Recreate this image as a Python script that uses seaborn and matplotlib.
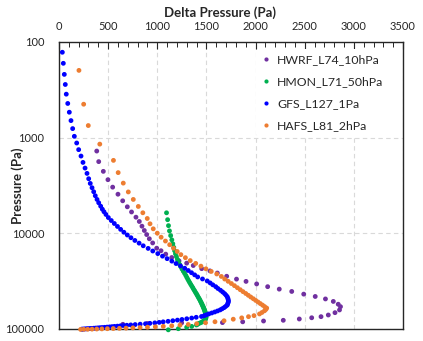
import matplotlib
matplotlib.use("Agg")
import matplotlib.pyplot as plt
import pandas as pd
import seaborn as sns
from matplotlib.lines import Line2D
from matplotlib.ticker import FixedLocator, FuncFormatter, LogLocator, NullFormatter, MultipleLocator

series_names = ["HWRF_L74_10hPa", "HMON_L71_50hPa", "GFS_L127_1Pa", "HAFS_L81_2hPa"]
series_colors = ["#7030A0", "#00B050", "#0000FF", "#ED7D31"]

hwrf_dp = [384, 404, 451, 498, 546, 600, 648, 695, 738, 783,
           817, 844, 868, 892, 919, 953, 994, 1038, 1086, 1147,
           1221, 1299, 1366, 1452, 1536, 1611, 1706, 1806, 1903, 2011,
           2123, 2241, 2368, 2490, 2607, 2711, 2791, 2841, 2864, 2854,
           2808, 2740, 2666, 2571, 2445, 2282, 2081, 1869, 1663, 1248,
           900, 650]
hwrf_p = [1380, 1780, 2250, 2750, 3290, 3900, 4570, 5280, 5980, 6780,
          7520, 8420, 9340, 10300, 11400, 12600, 14300, 15200, 16500, 17900,
          19400, 20500, 21700, 23400, 24700, 26000, 28100, 30100, 31800, 33800,
          36100, 38300, 40500, 43200, 45700, 48500, 51500, 55100, 58400, 63200,
          67500, 71400, 74300, 76300, 78600, 81100, 82500, 84100, 85700, 86300,
          87600, 89300]

hmon_dp = [1094, 1105, 1114, 1124, 1136, 1148, 1158, 1168, 1176, 1185,
           1195, 1205, 1215, 1228, 1240, 1252, 1265, 1278, 1290, 1300,
           1310, 1320, 1330, 1340, 1350, 1360, 1368, 1378, 1386, 1395,
           1403, 1410, 1418, 1425, 1432, 1438, 1444, 1450, 1455, 1460,
           1465, 1470, 1474, 1478, 1482, 1485, 1488, 1491, 1493, 1495,
           1496, 1496, 1495, 1493, 1490, 1484, 1476, 1465, 1452, 1437,
           1420, 1410, 1398, 1350, 1299, 1214, 1112]
hmon_p = [6100, 7200, 8310, 9430, 10560, 11700, 12860, 14020, 15190, 16370,
          17560, 18760, 19970, 21190, 22420, 23670, 24930, 26200, 27490, 28790,
          30100, 31420, 32750, 34090, 35440, 36800, 38170, 39550, 40940, 42330,
          43730, 45140, 46560, 47980, 49410, 50850, 52290, 53740, 55190, 56650,
          58110, 59580, 61050, 62530, 64010, 65500, 66990, 68480, 69970, 71470,
          72970, 74470, 75970, 77470, 78960, 80450, 81930, 83400, 84860, 86300,
          87800, 89300, 90800, 93900, 96000, 99300, 102000]

gfs_dp = [34, 44, 54, 64, 74, 89, 105, 122, 139, 156,
          180, 200, 224, 244, 265, 285, 302, 318, 336, 353,
          369, 387, 404, 424, 441, 458, 478, 502, 532, 563,
          595, 627, 660, 695, 732, 772, 815, 857, 907, 954,
          1005, 1053, 1100, 1148, 1191, 1236, 1279, 1315, 1348, 1380,
          1411, 1460, 1508, 1538, 1565, 1595, 1617, 1643, 1665, 1685,
          1700, 1712, 1718, 1722, 1724, 1721, 1716, 1711, 1695, 1680,
          1660, 1640, 1613, 1585, 1555, 1525, 1500, 1478, 1450, 1396,
          1350, 1300, 1251, 1205, 1158, 1110, 1060, 1020, 975, 925,
          880, 826, 775, 730, 690, 655, 625, 595, 565, 540,
          515, 490, 465, 440, 418, 396, 375, 355, 335, 318,
          300, 285, 270, 255, 240, 231]
gfs_p = [128, 167, 218, 278, 351, 439, 542, 663, 804, 968,
         1137, 1334, 1557, 1814, 2079, 2363, 2686, 3008, 3336, 3675,
         4045, 4423, 4790, 5200, 5594, 5953, 6351, 6839, 7349, 7894,
         8474, 9089, 9734, 10409, 11119, 11869, 12659, 13494, 14374, 15304,
         16284, 17314, 18394, 19519, 20689, 21904, 23164, 24464, 25799, 27164,
         28559, 29989, 31469, 32989, 34539, 36119, 37729, 39359, 41014, 42689,
         44384, 46089, 47804, 49524, 51246, 52970, 54690, 56400, 58100, 59790,
         61470, 63130, 64770, 66380, 67960, 69510, 71030, 72520, 73990, 75440,
         76830, 78180, 79480, 80730, 81930, 83090, 84200, 85260, 86280, 87250,
         88170, 89050, 89870, 90650, 91380, 92070, 92720, 93340, 93930, 94500,
         95040, 95550, 96040, 96500, 96940, 97360, 97760, 98130, 98490, 98820,
         99140, 99440, 99720, 100000, 100260, 100500]

hafs_dp = [203, 251, 298, 415, 554, 602, 654, 705, 756, 807,
           853, 898, 926, 959, 1000, 1039, 1083, 1126, 1165, 1203,
           1240, 1286, 1335, 1391, 1444, 1495, 1549, 1605, 1652, 1686,
           1721, 1754, 1785, 1815, 1844, 1872, 1900, 1926, 1951, 1977,
           2001, 2025, 2048, 2071, 2092, 2113, 2105, 2091, 2065, 2040,
           1984, 1928, 1859, 1773, 1679, 1587, 1491, 1401, 1315, 1231,
           1147, 1061, 980, 900, 825, 752, 682, 615, 552, 492,
           436, 384, 336, 292, 252, 220]
hafs_p = [198, 447, 747, 1168, 1727, 2319, 2986, 3693, 4423, 5237,
          6097, 6995, 7951, 8970, 9960, 10980, 12040, 13145, 14295, 15480,
          16705, 17965, 19270, 20625, 22035, 23500, 25020, 26595, 28225, 30050,
          31750, 33480, 35240, 37020, 38830, 40670, 42530, 44420, 46330, 48270,
          50230, 52220, 54230, 56270, 58330, 60420, 62400, 64500, 67200, 69600,
          72500, 74300, 76500, 79000, 82000, 84000, 86000, 88000, 89700, 91200,
          92600, 93800, 94900, 95800, 96600, 97300, 97900, 98400, 98900, 99300,
          99700, 100000, 100300, 100600, 100800, 101000]

x_ticks = [0, 500, 1000, 1500, 2000, 2500, 3000, 3500]
y_ticks = [100, 1000, 10000, 100000]
x_label = "Delta Pressure (Pa)"
y_label = "Pressure (Pa)"

all_dp = [hwrf_dp, hmon_dp, gfs_dp, hafs_dp]
all_p = [hwrf_p, hmon_p, gfs_p, hafs_p]
frames = []
for name, dp, p in zip(series_names, all_dp, all_p):
    assert len(dp) == len(p), (name, len(dp), len(p))
    frames.append(pd.DataFrame({"dp": dp, "p": p, "series": name}))
df = pd.concat(frames, ignore_index=True)

sns.set_style("white")
plt.rcParams["font.family"] = ["Lato", "DejaVu Sans"]

W, H = 423, 341
fig = plt.figure(figsize=(W / 100, H / 100), dpi=100)
L, R, T, B = 59, 403, 42, 329
ax = fig.add_axes([L / W, 1 - B / H, (R - L) / W, (B - T) / H])

sns.scatterplot(data=df, x="dp", y="p", hue="series", hue_order=series_names,
                palette=series_colors, s=12, linewidth=0, legend=False,
                ax=ax, clip_on=False, zorder=3)

ax.set_yscale("log")
ax.set_ylim(100000, 100)
ax.set_xlim(0, 3500)
ax.set_xlabel("")
ax.set_ylabel("")

ax.xaxis.tick_top()
ax.xaxis.set_major_locator(FixedLocator(x_ticks))
ax.xaxis.set_minor_locator(MultipleLocator(100))
ax.yaxis.set_major_locator(FixedLocator(y_ticks))
ax.yaxis.set_minor_locator(LogLocator(base=10, subs=range(2, 10)))
ax.yaxis.set_minor_formatter(NullFormatter())
ax.yaxis.set_major_formatter(FuncFormatter(lambda v, _: f"{int(round(v))}"))
ax.xaxis.set_major_formatter(FuncFormatter(lambda v, _: f"{int(round(v))}"))

ax.tick_params(axis="x", which="major", direction="in", length=5, width=0.8,
               top=True, bottom=False, labeltop=True, labelbottom=False,
               labelsize=8, pad=7, color="#262626")
ax.tick_params(axis="x", which="minor", direction="in", length=3.5, width=0.7,
               top=True, bottom=False, color="#262626")
ax.tick_params(axis="y", which="major", direction="inout", length=7, width=0.8,
               labelsize=8, pad=7, color="#262626")
ax.tick_params(axis="y", which="minor", direction="out", length=3.5, width=0.7,
               color="#262626")

ax.set_axisbelow(True)
ax.grid(True, which="major", axis="both", color="#d9d9d9", linestyle=(0, (4, 3)),
        linewidth=0.8)
for s in ax.spines.values():
    s.set_visible(True)
    s.set_color("#262626")
    s.set_linewidth(1.0)

fig.text(220 / W, 1 - 13 / H, x_label, ha="center", va="center",
         fontsize=9.5, fontweight="bold")
fig.text(18 / W, 1 - 186 / H, y_label, ha="center", va="center",
         fontsize=9.5, fontweight="bold", rotation=90)

handles = [Line2D([0], [0], marker="o", linestyle="", color=c,
                  markersize=3.0, markeredgewidth=0) for c in series_colors]
leg = ax.legend(handles, series_names, loc="upper left",
                bbox_to_anchor=(0.556, 0.996), frameon=True, fontsize=8.8,
                handlelength=0.8, handletextpad=0.5, labelspacing=0.9,
                borderpad=0.4)
leg.get_frame().set_edgecolor("none")
leg.get_frame().set_facecolor("white")
leg.get_frame().set_alpha(1)

fig.savefig("out.png", dpi=100)
